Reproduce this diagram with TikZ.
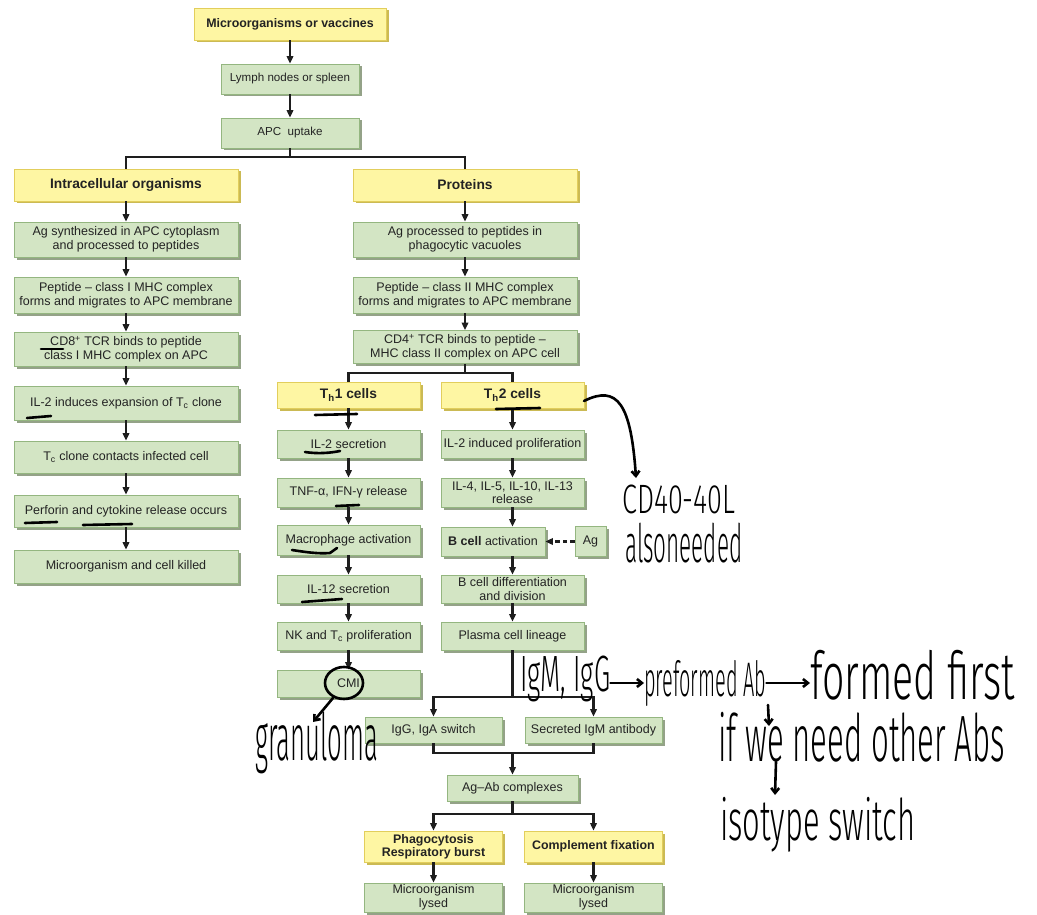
\documentclass[tikz,border=0pt]{standalone}
\usepackage{fontspec}
\usepackage{graphicx}
\setmainfont{Liberation Sans}
\newfontfamily\hand[UprightFont={* Light}]{Fira Sans}
\usetikzlibrary{arrows.meta,shadows}

\definecolor{gfill}{RGB}{211,229,196}
\definecolor{gline}{RGB}{148,182,128}
\definecolor{gshade}{RGB}{148,162,136}
\definecolor{yfill}{RGB}{254,246,163}
\definecolor{yline}{RGB}{226,206,92}
\definecolor{yshade}{RGB}{203,186,84}
\definecolor{txt}{RGB}{35,35,35}
\definecolor{lnk}{RGB}{30,30,30}

\tikzset{
  basebox/.style={line width=0.8pt, align=center, inner sep=1pt, text=txt},
  gbox/.style={basebox, draw=gline, fill=gfill,
    font=\fontsize{12.5}{13.6}\selectfont,
    drop shadow={shadow xshift=2.5pt, shadow yshift=-2.5pt, fill=gshade, opacity=1}},
  ybox/.style={basebox, draw=yline, fill=yfill,
    font=\bfseries\fontsize{13.8}{14}\selectfont,
    drop shadow={shadow xshift=2.5pt, shadow yshift=-2.5pt, fill=yshade, opacity=1}},
  smallbold/.style={font=\bfseries\fontsize{12.4}{13}\selectfont},
  smalltext/.style={font=\fontsize{11.6}{12.5}\selectfont},
  sz/.style 2 args={minimum width=#1pt, minimum height=#2pt},
  link/.style={line width=2.1pt, draw=lnk},
  flow/.style={link, -{Triangle[length=7.5pt,width=6.5pt]}},
  ink/.style={line width=2.6pt, black, line cap=round, line join=round},
  inkarrow/.style={ink, -{Straight Barb[length=5pt,width=8pt]}},
  note/.style={inner sep=0pt, anchor=north west, text=black},
}

\begin{document}
\begin{tikzpicture}[x=1pt, y=-1pt]
\useasboundingbox (0,0) rectangle (1037,915);

% ---------- top of the chart ----------
\node[ybox, smallbold, sz={192}{32}] (micro) at (290,24) {Microorganisms or vaccines};
\node[gbox, smalltext, sz={138}{30}] (lymph) at (290,79) {Lymph nodes or spleen};
\node[gbox, smalltext, sz={138}{30}] (apc)   at (290,133) {APC\ \ uptake};

\node[ybox, sz={224}{32}] (intra) at (126,185) {Intracellular organisms};
\node[ybox, sz={224}{32}] (prot)  at (465,185) {Proteins};

% ---------- class I pathway ----------
\node[gbox, sz={224}{35}] (agsyn)  at (126,239.5) {Ag synthesized in APC cytoplasm\\and processed to peptides};
\node[gbox, sz={224}{36}] (pep1)   at (126,295) {Peptide -- class I MHC complex\\forms and migrates to APC membrane};
\node[gbox, sz={224}{34}] (cd8)    at (126,349) {CD8\textsuperscript{+} TCR binds to peptide\\class I MHC complex on APC};
\node[gbox, sz={224}{34}] (il2)    at (126,403) {IL-2 induces expansion of T\textsubscript{c} clone};
\node[gbox, sz={224}{32}] (tc)     at (126,457) {T\textsubscript{c} clone contacts infected cell};
\node[gbox, sz={224}{32}] (perf)   at (126,511) {Perforin and cytokine release occurs};
\node[gbox, sz={224}{33}] (killed) at (126,566.5) {Microorganism and cell killed};

% ---------- class II pathway ----------
\node[gbox, sz={224}{35}] (agproc) at (465,239.5) {Ag processed to peptides in\\phagocytic vacuoles};
\node[gbox, sz={224}{36}] (pep2)   at (465,295) {Peptide -- class II MHC complex\\forms and migrates to APC membrane};
\node[gbox, sz={224}{33}] (cd4)    at (465,347) {CD4\textsuperscript{+} TCR binds to peptide --\\MHC class II complex on APC cell};

% ---------- Th1 branch ----------
\node[ybox, sz={143}{26}] (th1)   at (348.5,395) {T\textsubscript{h}1 cells};
\node[gbox, sz={143}{28}] (il2s)  at (348.5,444) {IL-2 secretion};
\node[gbox, sz={143}{29}] (tnf)   at (348.5,492.5) {TNF-α, IFN-γ release};
\node[gbox, sz={143}{30}] (macro) at (348.5,540) {Macrophage activation};
\node[gbox, sz={143}{28}] (il12)  at (348.5,589) {IL-12 secretion};
\node[gbox, sz={143}{28}] (nk)    at (348.5,636) {NK and T\textsubscript{c} proliferation};
\node[gbox, sz={143}{27}] (cmi)   at (348.5,683.5) {CMI};

% ---------- Th2 branch ----------
\node[ybox, sz={143}{26}] (th2)    at (512.5,395) {T\textsubscript{h}2 cells};
\node[gbox, sz={143}{28}] (il2p)   at (512.5,444) {IL-2 induced proliferation};
\node[gbox, sz={143}{29}] (il4)    at (512.5,492.5) {IL-4, IL-5, IL-10, IL-13\\release};
\node[gbox, sz={104}{29}] (bact)   at (493,541.5) {\textbf{B cell} activation};
\node[gbox, sz={31}{30}]  (ag)     at (590.5,541.5) {Ag};
\node[gbox, sz={143}{28}] (bdiff)  at (512.5,589) {B cell differentiation\\and division};
\node[gbox, sz={143}{28}] (plasma) at (512.5,636) {Plasma cell lineage};

% ---------- antibody outcome ----------
\node[gbox, sz={137}{26}] (iggsw) at (433.5,730) {IgG, IgA switch};
\node[gbox, sz={137}{26}] (igm)   at (593.5,730) {Secreted IgM antibody};
\node[gbox, sz={131}{26}] (agab)  at (512.5,788) {Ag--Ab complexes};
\node[ybox, smallbold, sz={138}{31}] (phago) at (433.5,846.5) {Phagocytosis\\Respiratory burst};
\node[ybox, smallbold, sz={138}{31}] (compl) at (593.5,846.5) {Complement fixation};
\node[gbox, sz={138}{29}] (lys1)  at (433.5,897.5) {Microorganism\\lysed};
\node[gbox, sz={138}{29}] (lys2)  at (593.5,897.5) {Microorganism\\lysed};

% ---------- connectors ----------
\draw[flow] (micro) -- (lymph);
\draw[flow] (lymph) -- (apc);
\coordinate (s1) at (290,157);
\draw[link] (apc.south) -- (s1);
\draw[link] (intra.north) |- (s1) -| (prot.north);

\foreach \a/\b in {intra/agsyn, agsyn/pep1, pep1/cd8, cd8/il2, il2/tc, tc/perf, perf/killed,
                   prot/agproc, agproc/pep2, pep2/cd4,
                   th1/il2s, il2s/tnf, tnf/macro, macro/il12, il12/nk, nk/cmi,
                   th2/il2p, il2p/il4, bdiff/plasma,
                   phago/lys1, compl/lys2}
  \draw[flow] (\a) -- (\b);

\coordinate (s2) at (465,373);
\draw[link] (cd4.south) -- (s2);
\draw[link] (th1.north) |- (s2) -| (th2.north);

\draw[flow] (il4.south) -- (il4.south |- bact.north);
\draw[flow] (bdiff.north |- bact.south) -- (bdiff.north);
\draw[flow, dash pattern=on 4.5pt off 3pt] (ag.west) -- (bact.east);

\coordinate (s3) at (512.5,697);
\draw[link] (plasma.south) -- (s3);
\draw[flow] (s3) -| (iggsw.north);
\draw[flow] (s3) -| (igm.north);

\coordinate (s4) at (512.5,753);
\draw[link] (iggsw.south) |- (s4) -| (igm.south);
\draw[flow] (s4) -- (agab.north);

\coordinate (s5) at (512.5,814);
\draw[link] (agab.south) -- (s5);
\draw[flow] (s5) -| (phago.north);
\draw[flow] (s5) -| (compl.north);

% ---------- handwritten marks ----------
% underlines
\draw[ink] (41,349) -- (63,349);
\draw[ink] (27,418) -- (51,416);
\draw[ink] (25,523) -- (57,522);
\draw[ink] (83,525) -- (132,524);
\draw[ink] (315,415) -- (357,414);
\draw[ink] (496,409) -- (540,408);
\draw[ink] (305,452) .. controls (318,454) and (330,453) .. (340,451);
\draw[ink] (336,506) -- (359,505);
\draw[ink] (292,550) .. controls (305,552) and (318,554) .. (330,553) -- (337,548);
\draw[ink] (302,602) -- (342,599);

% circle round CMI and its note
\draw[ink] (344,683) ellipse [x radius=19, y radius=16];
\draw[inkarrow] (333,698) -- (313,722);
\node[note] (gran) at (255,712) {\resizebox*{123pt}{62pt}{\hand granuloma}};

% note beside the Th2 cells
\draw[inkarrow] (584,401) .. controls (618,384) and (631,405) .. (636,478);
\node[note] (cd40) at (622,485) {\resizebox*{113pt}{29pt}{\hand CD40-40L}};
\node[note] (also) at (625,523) {\resizebox*{117pt}{40pt}{\hand alsoneeded}};

% note on antibody classes
\node[note] (igmg) at (520,656) {\resizebox*{90pt}{46pt}{\hand IgM, IgG}};
\node[note] (pre)  at (644,660) {\resizebox*{122pt}{46pt}{\hand preformed Ab}};
\node[note] (first) at (810,650) {\resizebox*{205pt}{50pt}{\hand formed first}};
\draw[inkarrow] (igmg.east |- 0,683) -- (pre.west |- 0,683);
\draw[inkarrow] (pre.east |- 0,683) -- (first.west |- 0,683);
\coordinate (d1) at (768,705);
\node[note] (other) at (718,712) {\resizebox*{287pt}{50pt}{\hand if we need other Abs}};
\draw[inkarrow] (d1) -- (769,726);
\node[note] (iso) at (720,797) {\resizebox*{195pt}{55pt}{\hand isotype switch}};
\draw[inkarrow] (776,762) -- (775,795);
\end{tikzpicture}
\end{document}
